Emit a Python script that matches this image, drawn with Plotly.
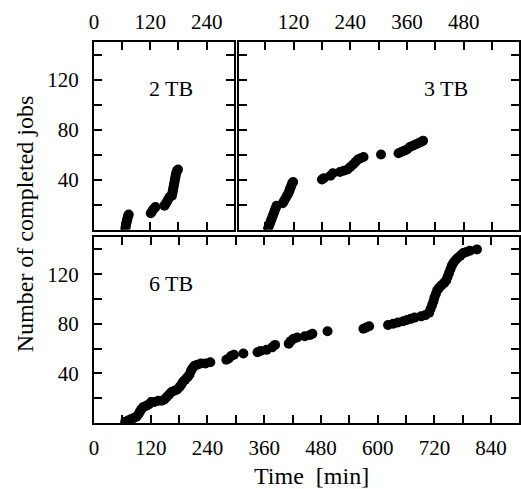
import plotly.graph_objects as go

# ---- data (minutes, cumulative completed jobs) ----
t_2tb = [67, 68, 69, 70, 71, 72, 73, 74,
         121, 123, 126, 129, 131,
         150, 152, 155, 158, 161,
         166, 167, 168, 169, 170, 171, 172, 173, 174, 175, 177, 179]
n_2tb = [1, 3, 5, 7, 8, 10, 11, 12,
         13, 14, 16, 17, 18,
         19, 20, 22, 24, 26,
         27, 29, 31, 33, 35, 37, 39, 41, 43, 45, 47, 48]

t_3tb = [66, 68, 70, 72, 74, 76, 78, 80, 82, 84,
         97, 100, 103, 106, 109, 111, 113, 115, 117, 119,
         180, 184, 198, 203,
         218, 226, 234, 240, 246, 251, 256, 262, 268,
         305,
         342, 348, 354, 360, 366, 372, 378, 384, 390, 394]
n_3tb = [1, 3, 5, 7, 9, 11, 13, 15, 17, 19,
         21, 23, 25, 27, 29, 31, 33, 35, 37, 38,
         40, 41, 43, 45,
         46, 47, 48, 50, 52, 54, 56, 57, 58,
         60,
         61, 62, 63, 64, 66, 67, 68, 69, 70, 71]

t_6tb = [66, 72, 78, 84, 90, 94, 97, 100, 105, 111, 116, 121, 128, 136, 143, 149,
         154, 159, 164, 170, 176, 181, 185, 188, 193, 198, 202, 205, 208, 212, 218,
         226, 236, 246,
         280, 285, 290, 296, 316, 346, 352, 365, 377, 383,
         412, 416, 422, 430, 446, 457, 462, 494,
         570, 576, 582,
         622, 633, 643, 654, 662, 670, 678, 692, 701,
         709, 712, 715, 718, 720, 723, 726, 730, 735, 741, 745, 748, 751, 754, 757,
         760, 764, 769, 775, 781, 788, 795, 810]
n_6tb = [1, 2, 3, 4, 5, 7, 9, 11, 13, 14, 15, 17, 17, 18, 18, 19,
         21, 23, 25, 26, 27, 29, 31, 33, 35, 37, 39, 42, 44, 46, 47,
         48, 48, 49,
         51, 52, 54, 55, 56, 57, 58, 59, 61, 63,
         64, 66, 68, 69, 70, 71, 72, 74,
         76, 77, 78,
         79, 80, 81, 82, 83, 84, 85, 86, 87,
         89, 92, 95, 98, 101, 104, 107, 109, 111, 113, 115, 118, 121, 124, 127,
         129, 131, 133, 135, 137, 138, 139, 140]

# ---- tick labels ----
y_tickvals = [20, 40, 60, 80, 100, 120, 140]
y_ticktext = ["", "40", "", "80", "", "120", ""]
x1_tickvals = [0, 60, 120, 180, 240]
x1_ticktext = ["0", "", "120", "", "240"]
x2_tickvals = [60, 120, 180, 240, 300, 360, 420, 480, 540]
x2_ticktext = ["", "120", "", "240", "", "360", "", "480", ""]
x3_tickvals = [0, 60, 120, 180, 240, 300, 360, 420, 480, 540, 600, 660, 720, 780, 840]
x3_ticktext = ["0", "", "120", "", "240", "", "360", "", "480", "", "600", "", "720", "", "840"]

W, H = 521, 489
FONT = "Liberation Serif"


def px_x(p):
    return p / W


def px_y(p):
    return 1 - p / H


marker = dict(color="black", size=10)
fig = go.Figure()
fig.add_trace(go.Scatter(x=t_2tb, y=n_2tb, mode="markers", marker=marker, xaxis="x", yaxis="y"))
fig.add_trace(go.Scatter(x=t_3tb, y=n_3tb, mode="markers", marker=marker, xaxis="x2", yaxis="y2"))
fig.add_trace(go.Scatter(x=t_6tb, y=n_6tb, mode="markers", marker=marker, xaxis="x3", yaxis="y3"))

common = dict(showline=True, linewidth=2, linecolor="black", mirror="allticks",
              ticks="inside", ticklen=8, tickwidth=2, tickcolor="black",
              showgrid=False, zeroline=False, tickmode="array",
              tickfont=dict(family=FONT, size=21, color="black"))

top_dom = [px_y(229.5), px_y(42)]
bot_dom = [px_y(423), px_y(237)]

fig.update_layout(
    width=W, height=H,
    margin=dict(l=0, r=0, t=0, b=0),
    paper_bgcolor="white", plot_bgcolor="white",
    showlegend=False,
    font=dict(family=FONT, size=21, color="black"),
    xaxis=dict(domain=[px_x(90), px_x(232)], range=[0, 299], side="top", anchor="y",
               tickvals=x1_tickvals, ticktext=x1_ticktext, ticklabelstandoff=3, **common),
    yaxis=dict(domain=top_dom, range=[0, 150], anchor="x",
               tickvals=y_tickvals, ticktext=y_ticktext, ticklabelstandoff=9, **common),
    xaxis2=dict(domain=[px_x(236.5), px_x(520)], range=[4, 597], side="top", anchor="y2",
                tickvals=x2_tickvals, ticktext=x2_ticktext, ticklabelstandoff=3, **common),
    yaxis2=dict(domain=top_dom, range=[0, 150], anchor="x2", showticklabels=False,
                tickvals=y_tickvals, ticktext=y_ticktext, **common),
    xaxis3=dict(domain=[px_x(90), px_x(520)], range=[0, 899], anchor="y3",
                tickvals=x3_tickvals, ticktext=x3_ticktext, ticklabelstandoff=5, **common),
    yaxis3=dict(domain=bot_dom, range=[0, 150], anchor="x3",
                tickvals=y_tickvals, ticktext=y_ticktext, ticklabelstandoff=9, **common),
)

ann_font = dict(family=FONT, size=22, color="black")
title_font = dict(family=FONT, size=24, color="black")
fig.add_annotation(text="2 TB", x=px_x(168), y=px_y(88), xref="paper", yref="paper",
                   showarrow=False, font=ann_font, xanchor="center", yanchor="middle")
fig.add_annotation(text="3 TB", x=px_x(446), y=px_y(88), xref="paper", yref="paper",
                   showarrow=False, font=ann_font, xanchor="center", yanchor="middle")
fig.add_annotation(text="6 TB", x=px_x(167.5), y=px_y(283), xref="paper", yref="paper",
                   showarrow=False, font=ann_font, xanchor="center", yanchor="middle")
fig.add_annotation(text="Time\u00a0 [min]", x=px_x(310.5), y=px_y(476), xref="paper", yref="paper",
                   showarrow=False, font=title_font, xanchor="center", yanchor="middle")
fig.add_annotation(text="Number of completed jobs", x=px_x(20), y=px_y(223.5), xref="paper",
                   yref="paper", showarrow=False, font=title_font, textangle=-90,
                   xanchor="center", yanchor="middle")

fig.write_html("out.html", config={"displayModeBar": False},
               post_script="document.body.style.margin='0px';document.body.style.overflow='hidden';")
